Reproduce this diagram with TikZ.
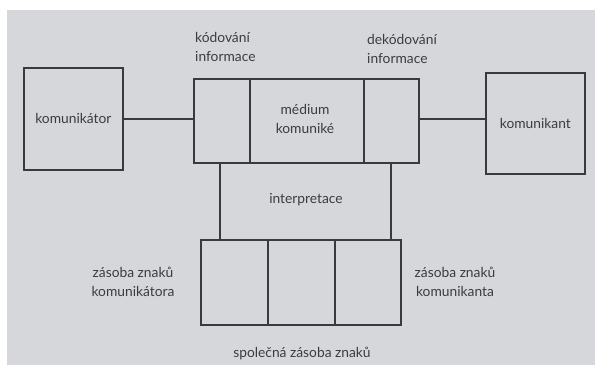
\documentclass[tikz,border=0pt]{standalone}
\usepackage{fontspec}
\setmainfont{Lato}
\begin{document}
\begin{tikzpicture}[x=1pt,y=-1pt,
  box/.style={draw=linec, line width=1.7pt, rectangle, inner sep=0pt, anchor=north west},
  lbl/.style={text=txtc, font=\fontsize{13.8}{19}\selectfont, align=center, inner sep=0pt},
  conn/.style={draw=linec, line width=1.7pt}]
\definecolor{bgc}{RGB}{214,215,218}
\definecolor{linec}{RGB}{58,58,60}
\definecolor{txtc}{RGB}{60,60,62}
\useasboundingbox (0,0) rectangle (595,365);
\fill[white] (0,0) rectangle (595,365);
\fill[bgc] (7,10) rectangle (595,365);
% left and right boxes
\node[box, minimum width=99pt, minimum height=102pt] (kom) at (23,67) {};
\node[box, minimum width=99pt, minimum height=101pt] (kant) at (485,72) {};
\node[lbl] (komt) at (kom.center) {komunikátor};
\node[lbl] (kantt) at (kant.center) {komunikant};
% middle box cells
\node[box, minimum width=56pt, minimum height=84pt] (kod) at (193,78) {};
\node[box, minimum width=114pt, minimum height=84pt] (med) at (249,78) {};
\node[box, minimum width=55pt, minimum height=84pt] (dek) at (363,78) {};
\node[lbl] (medt) at (305,119) {médium\\komuniké};
\node[lbl, anchor=west, align=left] (kodt) at (195,47) {kódování\\informace};
\node[lbl, anchor=west, align=left] (dekt) at (367,49) {dekódování\\informace};
% bottom box cells
\node[box, minimum width=67pt, minimum height=85pt] (zk1) at (200,239) {};
\node[box, minimum width=67pt, minimum height=85pt] (zk2) at (267,239) {};
\node[box, minimum width=66pt, minimum height=85pt] (zk3) at (334,239) {};
\node[lbl] (interp) at (306,200) {interpretace};
\node[lbl] (zkom) at (133,282) {zásoba znaků\\komunikátora};
\node[lbl] (zkant) at (455,282) {zásoba znaků\\komunikanta};
\node[lbl] (spol) at (302,353) {společná zásoba znaků};
% connectors
\draw[conn] (kom.east) -- (kod.west |- kom.east);
\coordinate (kw) at ([yshift=4.5pt]kant.west);
\draw[conn] (dek.east |- kw) -- (kw);
\coordinate (v1) at ([xshift=27pt]kod.south west);
\coordinate (v2) at ([xshift=28pt]dek.south west);
\draw[conn] (v1) -- (v1 |- zk1.north);
\draw[conn] (v2) -- (v2 |- zk3.north);
\end{tikzpicture}
\end{document}
